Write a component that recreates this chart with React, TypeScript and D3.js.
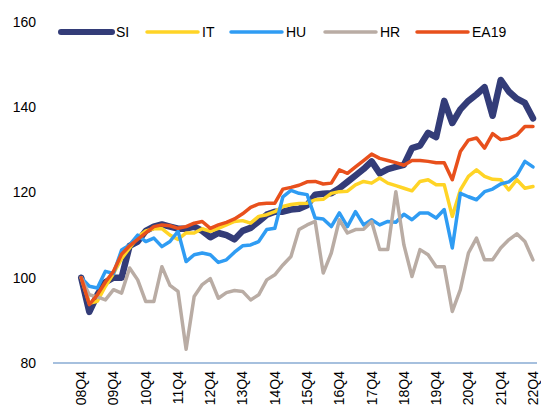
import React from "react";
import * as d3 from "d3";

// quarters 08Q1..22Q4 (axis starts three quarters before the data)
const years = d3.range(8, 23).map((y) => String(y).padStart(2, "0"));
const categories = years.flatMap((y) => [1, 2, 3, 4].map((q) => `${y}Q${q}`));
const tickLabels = [
  "08Q4", "09Q4", "10Q4", "11Q4", "12Q4", "13Q4", "14Q4", "15Q4",
  "16Q4", "17Q4", "18Q4", "19Q4", "20Q4", "21Q4", "22Q4",
];
const firstQuarter = "08Q4";
const yTicks = [80, 100, 120, 140, 160];

// values from 08Q4 to 22Q4
const SI = [
  100, 92, 96, 99, 100, 100, 107.5, 108.5, 111, 112, 112.5, 112, 111.5, 111.5, 112,
  111, 109.5, 110.5, 110, 109, 111, 111.7, 113.2, 114.8, 115.5, 115.5, 116, 116.2,
  117, 119.5, 119.7, 119.8, 121, 122.5, 124, 125.5, 127.3, 124.5, 125.5, 126, 126.5,
  130.4, 131, 134, 133, 141.5, 136.3, 139.5, 141.5, 143, 144.7, 138, 146.4, 143.7,
  142, 141, 137.4,
];
const IT = [
  100, 94, 94.5, 98, 101, 104.5, 107, 109.5, 111, 111.5, 111.5, 110, 109, 110.5,
  110.5, 111.5, 110.9, 111.6, 112.4, 113.2, 113.4, 112.8, 114.4, 114.8, 115.5, 116.7,
  117.2, 117.4, 117.5, 118.3, 118.4, 119.8, 120.2, 120.3, 121.8, 122.6, 122.2, 123.4,
  122.2, 121.6, 121, 120.4, 122.6, 123, 121.8, 121.8, 114.4, 120.6, 123.8, 125.3,
  123.8, 123.1, 123, 120.6, 123, 121, 121.4,
];
const HU = [
  100, 98, 97.6, 101.5, 101, 106.5, 107.7, 110, 108.5, 109.3, 107.3, 108.5, 110.9,
  103.8, 105.4, 105.8, 105.4, 103.6, 104.2, 106, 107.5, 107.7, 108.5, 111.3, 111.6,
  119, 120.5, 119.8, 119.5, 114, 113.8, 112, 115.2, 112, 115.5, 112.4, 113.6, 112.4,
  113.2, 113, 114.9, 113.6, 115.2, 115.2, 114, 116, 107, 119.8, 119, 118.3, 120.2,
  120.8, 122, 122.5, 124, 127.3, 126,
];
const HR = [
  100, 96, 95.5, 94.8, 97.2, 96.4, 102.3, 99.5, 94.4, 94.4, 102.6, 98.2, 96.8, 83.2,
  95.6, 98.4, 99.8, 95.2, 96.5, 97, 96.8, 94.8, 96, 99.5, 100.7, 103, 105, 111.3,
  112.4, 113.2, 101.1, 105.8, 113.6, 110.5, 111.3, 111.4, 113.2, 106.6, 106.6, 120.2,
  107.7, 100.3, 106.6, 105.4, 102.6, 102.6, 92.1, 97.2, 105.8, 109.3, 104.2, 104.2,
  107, 108.9, 110.3, 108.5, 104.2,
];
const EA19 = [
  100, 93.7, 96, 99, 101.5, 105.5, 107.5, 109, 110.5, 112, 112.4, 112.2, 111.6, 112,
  112.8, 113.2, 111.6, 112.4, 113, 113.8, 115, 116.5, 117.3, 117.5, 117.5, 120.8,
  121.2, 121.7, 122.5, 122.6, 122, 122.2, 125.3, 124.5, 126, 127.5, 129, 128, 127.5,
  127, 126.4, 127.5, 127.5, 127.3, 127, 127, 123, 129.6, 132.3, 132.8, 130.4, 133.8,
  132.4, 132.7, 133.5, 135.5, 135.5,
];

const seriesNames = ["SI", "IT", "HU", "HR", "EA19"];
const seriesValues = [SI, IT, HU, HR, EA19];
const colors = ["#333c78", "#ffd426", "#2f9cf3", "#b9aca4", "#e8501c"];
const widths = [6.5, 3.5, 3.5, 3.5, 3.5];
const legendX = [61, 147, 231, 325, 417];

const W = 541;
const H = 412;
const font = "'Liberation Sans', Arial, sans-serif";

export default function App() {
  const x = d3.scaleBand().domain(categories).range([53, 537]);
  const xc = (c: string) => (x(c) ?? 0) + x.bandwidth() / 2;
  const y = d3.scaleLinear().domain([80, 160]).range([363, 22]);
  const start = categories.indexOf(firstQuarter);

  const line = d3
    .line<number>()
    .x((_, i) => xc(categories[start + i]))
    .y((d) => y(d));

  return (
    <div style={{ position: "fixed", left: 0, top: 0 }}>
      <svg width={W} height={H} style={{ display: "block", background: "#fff" }}>
        {yTicks.map((t) => (
          <text
            key={t}
            x={36}
            y={y(t)}
            dy="0.35em"
            textAnchor="end"
            fontFamily={font}
            fontSize={14}
            fill="#000"
          >
            {t}
          </text>
        ))}
        <line x1={53} x2={537} y1={y(80)} y2={y(80)} stroke="#4f81bd" strokeWidth={1.2} />
        {tickLabels.map((l) => (
          <text
            key={l}
            transform={`translate(${xc(l)},${371}) rotate(-90)`}
            dy="0.35em"
            textAnchor="end"
            fontFamily={font}
            fontSize={14}
            fill="#000"
          >
            {l}
          </text>
        ))}
        {seriesValues.map((vals, i) => (
          <path
            key={seriesNames[i]}
            d={line(vals) ?? ""}
            fill="none"
            stroke={colors[i]}
            strokeWidth={widths[i]}
            strokeLinejoin="round"
            strokeLinecap="round"
          />
        ))}
        {seriesNames.map((n, i) => (
          <g key={n}>
            <line
              x1={legendX[i]}
              x2={legendX[i] + 51}
              y1={32}
              y2={32}
              stroke={colors[i]}
              strokeWidth={i === 0 ? 6 : 3.5}
              strokeLinecap="round"
            />
            <text
              x={legendX[i] + 55}
              y={32}
              dy="0.35em"
              fontFamily={font}
              fontSize={14}
              fill="#000"
            >
              {n}
            </text>
          </g>
        ))}
      </svg>
    </div>
  );
}
